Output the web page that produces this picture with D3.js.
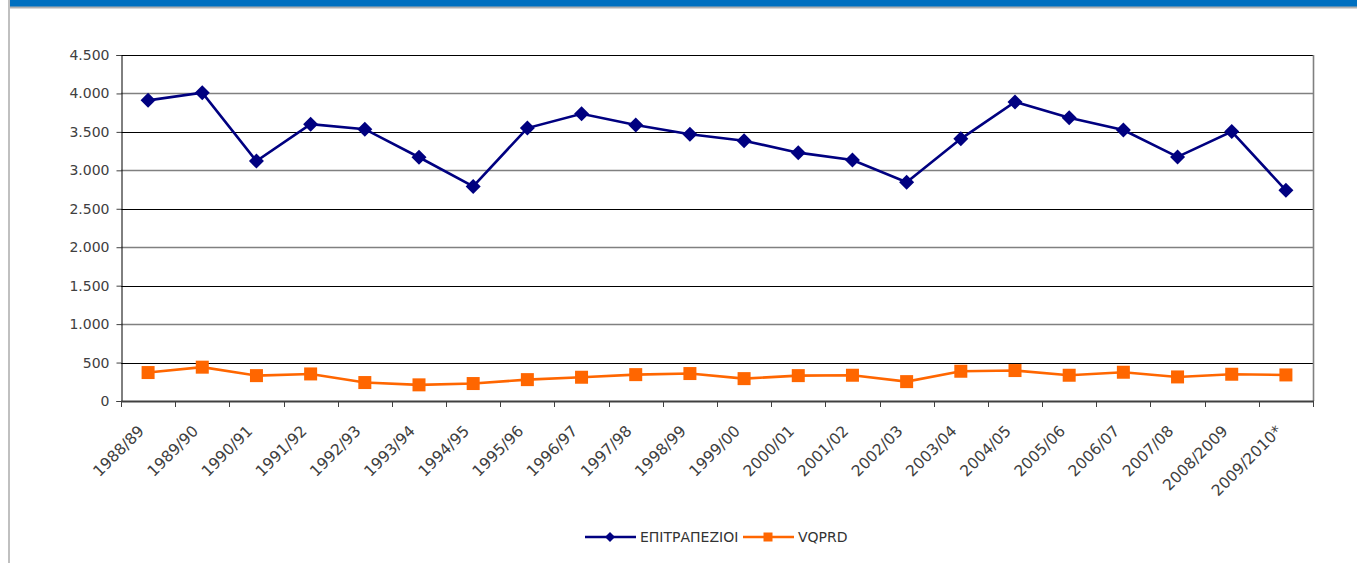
<!DOCTYPE html>
<html>
<head>
<meta charset="utf-8">
<script src="https://cdn.jsdelivr.net/npm/d3@7"></script>
<style>
  body { margin: 0; background: #fff; }
  svg { display: block; font-family: "DejaVu Sans", sans-serif; }
</style>
</head>
<body>
<div id="app"></div>
<script>
const seasons = ["1988/89", "1989/90", "1990/91", "1991/92", "1992/93", "1993/94",
  "1994/95", "1995/96", "1996/97", "1997/98", "1998/99", "1999/00", "2000/01",
  "2001/02", "2002/03", "2003/04", "2004/05", "2005/06", "2006/07", "2007/08",
  "2008/2009", "2009/2010*"];
const tableWine = [3910, 4010, 3120, 3600, 3535, 3170, 2790, 3550, 3735, 3590, 3470,
  3385, 3230, 3135, 2845, 3410, 3890, 3685, 3525, 3175, 3505, 2740];
const vqprd = [370, 440, 330, 352, 240, 210, 227, 278, 309, 343, 357,
  291, 330, 335, 252, 387, 396, 335, 374, 313, 348, 339];
const yTicks = [0, 500, 1000, 1500, 2000, 2500, 3000, 3500, 4000, 4500];
const seriesNames = ["ΕΠΙΤΡΑΠΕΖΙΟΙ", "VQPRD"];

const W = 1357, H = 563;
const margin = { top: 55, right: 44, bottom: 162, left: 121 },
      x0 = margin.left, x1 = W - margin.right,
      y0 = H - margin.bottom, y1 = margin.top;

const blue = "#000080", orange = "#ff6600";

const svg = d3.select("#app").append("svg")
  .attr("width", W)
  .attr("height", H);

/* frame: blue strip at top and grey border on the left */
svg.append("rect").attr("x", 10).attr("y", 0).attr("width", W - 10).attr("height", 7).attr("fill", "#0070c0");
svg.append("line").attr("x1", 10).attr("x2", W).attr("y1", 7.5).attr("y2", 7.5).attr("stroke", "#b0b0b0").attr("stroke-width", 2);
svg.append("line").attr("x1", 9).attr("x2", 9).attr("y1", 0).attr("y2", H).attr("stroke", "#c0c0c0").attr("stroke-width", 2);

const xScale = d3.scaleBand().domain(seasons).range([x0, x1]).padding(0);
const yScale = d3.scaleLinear().domain([0, 4500]).range([y0, y1]);
const cx = d => xScale(d) + xScale.bandwidth() / 2;

/* gridlines */
svg.append("g")
  .selectAll("line")
  .data(yTicks.filter(d => d > 0))
  .join("line")
    .attr("x1", x0).attr("x2", x1)
    .attr("y1", d => Math.round(yScale(d)) + 0.5)
    .attr("y2", d => Math.round(yScale(d)) + 0.5)
    .attr("stroke", d => d % 1000 === 0 ? "#808080" : "#000")
    .attr("stroke-width", d => d % 1000 === 0 ? 1.6 : 1);

/* right border */
svg.append("line")
  .attr("x1", x1 + 0.5).attr("x2", x1 + 0.5)
  .attr("y1", y1).attr("y2", y0)
  .attr("stroke", "#808080").attr("stroke-width", 1.6);

/* Y axis */
const yAxis = svg.append("g")
  .attr("transform", `translate(${x0 + 0.5},0)`)
  .call(d3.axisLeft(yScale)
    .tickValues(yTicks)
    .tickSize(5)
    .tickPadding(7)
    .tickFormat(d => d3.format(",")(d).replace(/,/g, ".")));
yAxis.select(".domain").attr("stroke", "#000");
yAxis.selectAll(".tick line").attr("stroke", "#404040");
yAxis.selectAll("text")
  .attr("font-size", 14)
  .attr("font-family", "DejaVu Sans, sans-serif")
  .attr("fill", "#404040");

/* X axis: line, boundary ticks, rotated labels */
svg.append("line")
  .attr("x1", x0).attr("x2", x1 + 1)
  .attr("y1", y0 + 0.5).attr("y2", y0 + 0.5)
  .attr("stroke", "#404040").attr("stroke-width", 2);

const bounds = seasons.map(d => xScale(d)).concat([x1]);
svg.append("g")
  .selectAll("line")
  .data(bounds)
  .join("line")
    .attr("x1", d => Math.round(d) + 0.5).attr("x2", d => Math.round(d) + 0.5)
    .attr("y1", y0).attr("y2", y0 + 6)
    .attr("stroke", "#404040").attr("stroke-width", 1);

svg.append("g")
  .selectAll("text")
  .data(seasons)
  .join("text")
    .attr("transform", d => `translate(${cx(d) - 3},${y0 + 31}) rotate(-45)`)
    .attr("text-anchor", "end")
    .attr("font-size", 15.5)
    .attr("fill", "#404040")
    .text(d => d);

/* lines */
const line = d3.line()
  .x((d, i) => cx(seasons[i]))
  .y(d => yScale(d));

svg.append("path")
  .datum(tableWine)
  .attr("fill", "none")
  .attr("stroke", blue)
  .attr("stroke-width", 2.6)
  .attr("d", line);

svg.append("path")
  .datum(vqprd)
  .attr("fill", "none")
  .attr("stroke", orange)
  .attr("stroke-width", 2.6)
  .attr("d", line);

/* markers */
const diamond = s => `M0,${-s}L${s},0L0,${s}L${-s},0Z`;

svg.append("g")
  .selectAll("path")
  .data(tableWine)
  .join("path")
    .attr("transform", (d, i) => `translate(${cx(seasons[i])},${yScale(d)})`)
    .attr("d", diamond(7.5))
    .attr("fill", blue);

svg.append("g")
  .selectAll("rect")
  .data(vqprd)
  .join("rect")
    .attr("x", (d, i) => cx(seasons[i]) - 6.5)
    .attr("y", d => yScale(d) - 6.5)
    .attr("width", 13)
    .attr("height", 13)
    .attr("fill", orange);

/* legend */
const legend = svg.append("g").attr("transform", "translate(0,537)");
const items = [
  { name: seriesNames[0], color: blue, x: 585, type: "diamond" },
  { name: seriesNames[1], color: orange, x: 743, type: "square" }
];
items.forEach(it => {
  const g = legend.append("g").attr("transform", `translate(${it.x},0)`);
  g.append("line").attr("x1", 0).attr("x2", 51).attr("y1", 0).attr("y2", 0)
    .attr("stroke", it.color).attr("stroke-width", 2.6);
  if (it.type === "diamond") {
    g.append("path").attr("transform", "translate(25,0)").attr("d", diamond(5)).attr("fill", it.color);
  } else {
    g.append("rect").attr("x", 20.5).attr("y", -4.5).attr("width", 9).attr("height", 9).attr("fill", it.color);
  }
  g.append("text")
    .attr("x", 55).attr("y", 0).attr("dy", "0.36em")
    .attr("font-size", 14)
    .attr("fill", "#333")
    .text(it.name);
});
</script>
</body>
</html>
